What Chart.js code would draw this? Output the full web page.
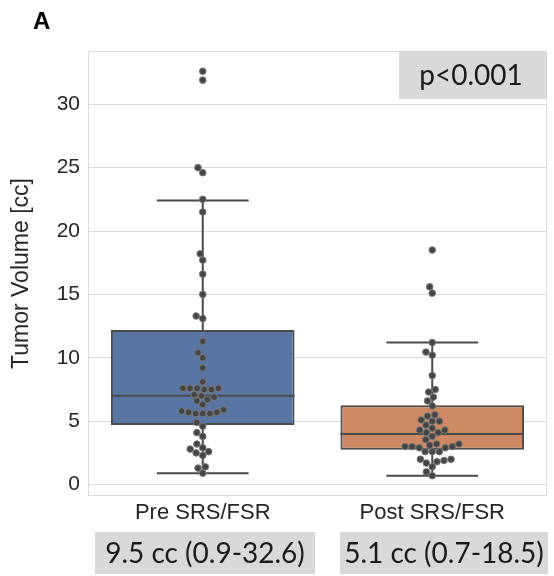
<!DOCTYPE html>
<html>
<head>
<meta charset="utf-8">
<script src="https://cdn.jsdelivr.net/npm/chart.js@4.4.0/dist/chart.umd.min.js"></script>
<style>
html, body { margin: 0; padding: 0; background: #fff; }
#wrap { width: 554px; height: 576px; }
</style>
</head>
<body>
<div id="wrap"><canvas id="volumechart"></canvas></div>
<script>
const categories = ['Pre SRS/FSR', 'Post SRS/FSR'];
const summaryLabels = ['9.5 cc (0.9-32.6)', '5.1 cc (0.7-18.5)'];
const pValueLabel = 'p<0.001';
const panelLabel = 'A';
const yTicks = [0, 5, 10, 15, 20, 25, 30];

const boxQ1 = [4.7, 2.75];
const boxMedian = [7.0, 4.0];
const boxQ3 = [12.2, 6.25];
const whiskerLow = [0.9, 0.7];
const whiskerHigh = [22.4, 11.2];

const preVolumes = [32.6, 31.9, 25.0, 24.6, 22.5, 21.5, 18.2, 17.7, 16.6, 15.0, 13.3, 13.1,
  11.3, 10.4, 10.0, 9.2, 8.1, 7.6, 7.6, 7.5, 7.6, 7.5, 7.6, 7.1, 7.0, 6.9, 6.7, 6.6, 6.3,
  5.8, 5.7, 5.6, 5.6, 5.6, 5.7, 5.9, 4.9, 4.6, 4.1, 3.8, 3.2, 2.9, 2.8, 2.5, 2.3, 2.6,
  1.3, 1.4, 0.9];
const postVolumes = [18.5, 15.6, 15.1, 11.2, 10.45, 10.2, 8.6, 7.5, 7.3, 6.9, 6.6, 6.2,
  5.5, 5.4, 5.1, 5.0, 5.0, 4.7, 4.45, 4.3, 4.3, 4.1, 4.1, 3.8, 3.55, 3.2, 3.2, 3.1, 3.0,
  3.0, 3.0, 2.9, 2.9, 2.6, 2.6, 2.6, 2.0, 2.0, 1.9, 1.8, 1.7, 1.4, 1.0, 0.7];

// styles
const boxColors = ['#5875a4', '#cc8963'];
const lineColor = '#4a4a4a';
const gridColor = '#dcdcdc';
const textColor = '#262626';
const boxHalf = 0.4;
const capHalf = 0.2;
const dotDiameter = 6.8;
const labelFont = 'Liberation Sans';
const boxFont = 'Lato';
const summaryBoxes = [{left: 95, width: 220}, {left: 340, width: 208}];

function segment(points, order) {
  return {
    type: 'line',
    data: points,
    borderColor: lineColor,
    borderWidth: 2,
    pointRadius: 0,
    fill: false,
    order: order
  };
}

const datasets = [];
[preVolumes, postVolumes].forEach((vals, i) => {
  datasets.push({
    type: 'scatter',
    data: vals.map(v => ({x: i, y: v})),
    swarmGroup: i,
    backgroundColor: '#454545',
    borderColor: '#767676',
    borderWidth: 1,
    pointRadius: 3.3,
    order: 0
  });
});
datasets.push({
  type: 'bar',
  data: categories.map((c, i) => ({x: i, y: [boxQ1[i], boxQ3[i]]})),
  backgroundColor: boxColors,
  borderColor: lineColor,
  borderWidth: 2,
  borderSkipped: false,
  categoryPercentage: 1,
  barPercentage: 0.8,
  order: 2
});
categories.forEach((c, i) => {
  datasets.push(segment([{x: i - boxHalf, y: boxMedian[i]}, {x: i + boxHalf, y: boxMedian[i]}], 1));
  datasets.push(segment([{x: i, y: whiskerLow[i]}, {x: i, y: whiskerHigh[i]}], 3));
  datasets.push(segment([{x: i - capHalf, y: whiskerLow[i]}, {x: i + capHalf, y: whiskerLow[i]}], 3));
  datasets.push(segment([{x: i - capHalf, y: whiskerHigh[i]}, {x: i + capHalf, y: whiskerHigh[i]}], 3));
});

const decor = {
  id: 'decor',
  beforeDatasetsDraw(chart) {
    const {ctx, chartArea: a} = chart;
    ctx.save();
    ctx.strokeStyle = gridColor;
    ctx.lineWidth = 1;
    ctx.strokeRect(a.left + 0.5, a.top + 0.5, a.right - a.left - 1, a.bottom - a.top - 1);
    ctx.restore();
  },
  afterDraw(chart) {
    const {ctx, chartArea: a} = chart;
    ctx.save();
    // p value box
    ctx.fillStyle = '#d9d9d9';
    ctx.fillRect(a.right - 148, a.top, 148, 48);
    ctx.fillStyle = '#1a1a1a';
    ctx.font = '28px ' + boxFont;
    ctx.textAlign = 'center';
    ctx.textBaseline = 'middle';
    ctx.fillText(pValueLabel, a.right - 76, a.top + 25);
    // summary boxes
    summaryLabels.forEach((s, i) => {
      const b = summaryBoxes[i];
      ctx.fillStyle = '#d9d9d9';
      ctx.fillRect(b.left, 532, b.width, 42);
      ctx.fillStyle = '#1a1a1a';
      ctx.fillText(s, b.left + b.width / 2, 554);
    });
    // panel letter
    ctx.font = 'bold 24px "' + labelFont + '"';
    ctx.textAlign = 'left';
    ctx.textBaseline = 'alphabetic';
    ctx.fillStyle = '#000';
    ctx.fillText(panelLabel, 33, 29);
    ctx.restore();
  }
};

const config = {
  type: 'bar',
  data: {datasets: datasets},
  options: {
    responsive: true,
    maintainAspectRatio: false,
    animation: false,
    layout: {padding: {top: 51, right: 7, left: 0, bottom: 0}},
    plugins: {legend: {display: false}, tooltip: {enabled: false}},
    scales: {
      x: {
        type: 'linear',
        min: -0.5,
        max: 1.5,
        offset: false,
        grid: {display: false, drawTicks: false},
        border: {display: false},
        afterBuildTicks: scale => { scale.ticks = categories.map((c, i) => ({value: i})); },
        afterFit: scale => { scale.height = 80; },
        ticks: {
          callback: v => categories[v],
          color: textColor,
          padding: 4,
          font: {family: labelFont, size: 22}
        }
      },
      y: {
        min: -0.9,
        max: 34.2,
        grid: {color: gridColor, drawTicks: false},
        border: {display: false},
        afterBuildTicks: scale => { scale.ticks = yTicks.map(v => ({value: v})); },
        afterFit: scale => { scale.width = 88; },
        ticks: {
          color: textColor,
          padding: 8,
          font: {family: labelFont, size: 21}
        },
        title: {
          display: true,
          text: 'Tumor Volume [cc]',
          color: textColor,
          padding: {top: 8, bottom: 0},
          font: {family: labelFont, size: 23}
        }
      }
    }
  },
  plugins: [decor]
};

const chart = new Chart(document.getElementById('volumechart'), config);

// beeswarm layout, like seaborn swarmplot
function layoutSwarm(chart) {
  const xs = chart.scales.x, ys = chart.scales.y;
  const pxPerUnit = xs.getPixelForValue(1) - xs.getPixelForValue(0);
  const d = dotDiameter;
  chart.data.datasets.forEach(ds => {
    if (ds.swarmGroup === undefined) return;
    const center = ds.swarmGroup;
    const pts = ds.data.map(p => ({v: p.y, py: ys.getPixelForValue(p.y), px: 0}));
    const sorted = pts.slice().sort((a, b) => a.v - b.v);
    const placed = [];
    sorted.forEach(p => {
      const near = placed.filter(q => Math.abs(q.py - p.py) < d);
      const cands = [0];
      near.forEach(q => {
        const dx = Math.sqrt(Math.max(d * d - (q.py - p.py) ** 2, 0)) * 1.05;
        cands.push(q.px - dx, q.px + dx);
      });
      cands.sort((a, b) => Math.abs(a) - Math.abs(b));
      for (const c of cands) {
        const ok = near.every(q => (q.px - c) ** 2 + (q.py - p.py) ** 2 >= d * d * 0.98);
        if (ok) { p.px = c; break; }
      }
      placed.push(p);
    });
    ds.data = pts.map(p => ({x: center + p.px / pxPerUnit, y: p.v}));
  });
  chart.update('none');
}
layoutSwarm(chart);
</script>
</body>
</html>
